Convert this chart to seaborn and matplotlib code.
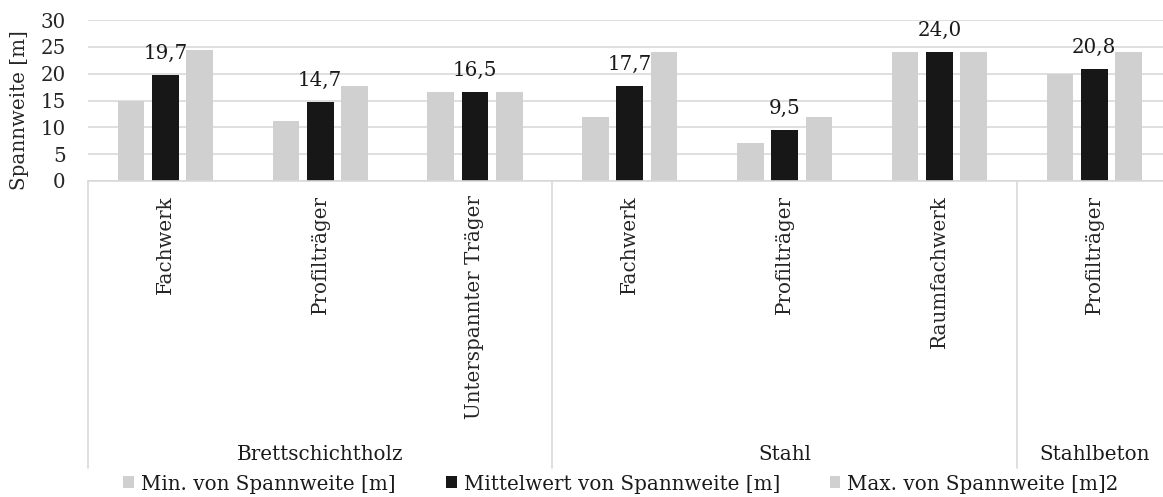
import matplotlib
matplotlib.use("Agg")
import matplotlib.pyplot as plt
import matplotlib.transforms as mtransforms
import pandas as pd
import seaborn as sns

# Material groups and the structural types within each group
materials = ["Brettschichtholz", "Brettschichtholz", "Brettschichtholz",
             "Stahl", "Stahl", "Stahl", "Stahlbeton"]
types = ["Fachwerk", "Profilträger", "Unterspannter Träger",
         "Fachwerk", "Profilträger", "Raumfachwerk", "Profilträger"]

# Span values [m]
span_min = [15.0, 11.2, 16.5, 12.0, 7.0, 24.0, 20.0]
span_mean = [19.7, 14.7, 16.5, 17.7, 9.5, 24.0, 20.8]
span_max = [24.4, 17.7, 16.5, 24.0, 12.0, 24.0, 24.0]

series_names = ["Min. von Spannweite [m]",
                "Mittelwert von Spannweite [m]",
                "Max. von Spannweite [m]2"]
series_colors = ["#D0D0D0", "#171717", "#D0D0D0"]

y_ticks = [0, 5, 10, 15, 20, 25, 30]
y_label = "Spannweite [m]"

sns.set_theme(style="white")
plt.rcParams["font.family"] = ["DejaVu Serif"]
plt.rcParams["text.color"] = "#1a1a1a"

keys = [f"{m}|{t}" for m, t in zip(materials, types)]
rows = []
for name, vals in zip(series_names, [span_min, span_mean, span_max]):
    for k, v in zip(keys, vals):
        rows.append({"kategorie": k, "serie": name, "wert": v})
df = pd.DataFrame(rows)

fig = plt.figure(figsize=(11.63, 4.97), dpi=100)
ax = fig.add_axes([88 / 1163, 1 - 181 / 497, 7 * 154.8 / 1163, 161 / 497])

sns.barplot(data=df, x="kategorie", y="wert", hue="serie",
            order=keys, hue_order=series_names, palette=series_colors,
            width=0.665, gap=0.22, saturation=1, linewidth=0,
            ax=ax, legend=True)

grid_col = "#D9D9D9"
ax.set_ylim(0, 30)
ax.set_xlim(-0.5, len(keys) - 0.5)
ax.set_yticks(y_ticks)
ax.set_yticklabels([str(t) for t in y_ticks], fontsize=14.3)
ax.yaxis.grid(True, color=grid_col, linewidth=1.2)
ax.set_axisbelow(True)
for side in ["top", "right", "left"]:
    ax.spines[side].set_visible(False)
ax.spines["bottom"].set_color(grid_col)
ax.spines["bottom"].set_linewidth(1.2)

ax.set_xticks(range(len(keys)))
ax.set_xticklabels(types, rotation=90, fontsize=14.3)
ax.tick_params(axis="x", length=0, pad=10)
ax.tick_params(axis="y", length=0, pad=16)
ax.set_xlabel("")
ax.set_ylabel(y_label, fontsize=14.3)
ax.yaxis.set_label_coords(-0.054, 0.44)

# Value labels above the mean bars
mean_container = ax.containers[1]
ax.bar_label(mean_container,
             labels=[f"{v:.1f}".replace(".", ",") for v in span_mean],
             padding=9, fontsize=14.3)

# Grouped category axis: separators and material labels
trans = mtransforms.blended_transform_factory(ax.transData, ax.transAxes)
groups = []
for i, m in enumerate(materials):
    if not groups or groups[-1][0] != m:
        groups.append([m, i, i])
    else:
        groups[-1][2] = i
bottom_y = (181 - 468) / 161
for m, start, end in groups:
    ax.plot([start - 0.5, start - 0.5], [0, bottom_y], color=grid_col,
            linewidth=1.2, transform=trans, clip_on=False)
    ax.text((start + end) / 2, (181 - 455) / 161, m, ha="center", va="center",
            fontsize=14.3, transform=trans)
last = len(keys) - 0.5
ax.plot([last, last], [0, bottom_y], color=grid_col, linewidth=1.2,
        transform=trans, clip_on=False)

handles, labels = ax.get_legend_handles_labels()
ax.legend(handles, labels, loc="center", bbox_to_anchor=(0.492, (181 - 484) / 161),
          ncol=3, frameon=False, fontsize=14.3, handlelength=0.55,
          handleheight=0.55, handletextpad=0.35, columnspacing=2.5,
          borderaxespad=0, borderpad=0)

fig.savefig("out.png", dpi=100)
